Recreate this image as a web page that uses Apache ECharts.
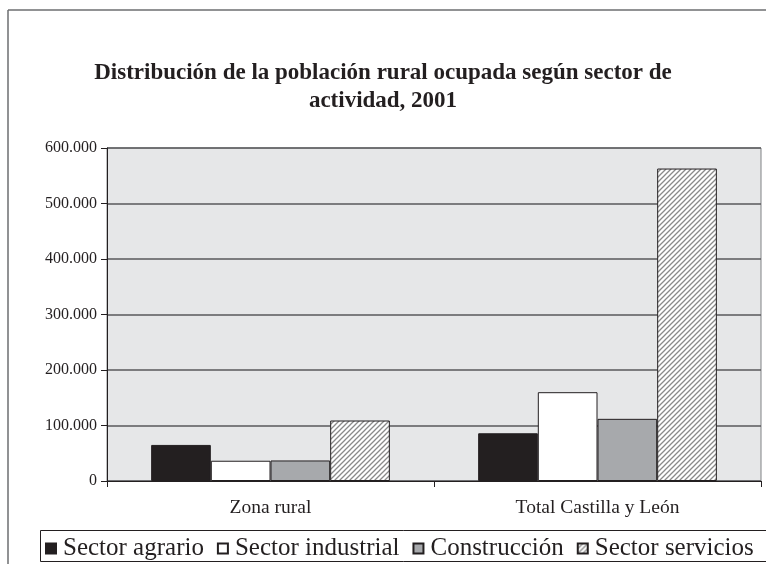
<!DOCTYPE html>
<html>
<head>
<meta charset="utf-8">
<script src="https://cdn.jsdelivr.net/npm/echarts@6/dist/echarts.min.js"></script>
<style>html,body{margin:0;padding:0;background:#fff}#c{width:766px;height:564px}</style>
</head>
<body>
<div id="c"></div>
<script>
var titleText = 'Distribución de la población rural ocupada según sector de\nactividad, 2001';
var categories = ['Zona rural', 'Total Castilla y León'];
var seriesNames = ['Sector agrario', 'Sector industrial', 'Construcción', 'Sector servicios'];
var agrario = [65000, 86000];
var industrial = [36500, 160000];
var construccion = [37000, 112000];
var servicios = [109000, 563000];
var yTicks = [0, 100000, 200000, 300000, 400000, 500000, 600000];

function hatch() {
  var c = document.createElement('canvas');
  c.width = 5; c.height = 5;
  var g = c.getContext('2d');
  g.fillStyle = '#ffffff'; g.fillRect(0, 0, 5, 5);
  g.strokeStyle = '#8a8a8a'; g.lineWidth = 1.3;
  g.beginPath();
  g.moveTo(-1, 6); g.lineTo(6, -1);
  g.moveTo(-3, 3); g.lineTo(3, -3);
  g.moveTo(2, 8); g.lineTo(8, 2);
  g.stroke();
  return c;
}
var hatchImg = hatch();

function fmt(v) {
  if (v === 0) return '0';
  var s = String(v);
  return s.replace(/\B(?=(\d{3})+(?!\d))/g, '.');
}

var chart = echarts.init(document.getElementById('c'), null, {renderer: 'canvas'});
var font = 'Liberation Serif';
var fills = ['#231f20', '#ffffff', '#a7a9ac', {image: hatchImg, repeat: 'repeat'}];
var data = [agrario, industrial, construccion, servicios];

chart.setOption({
  animation: false,
  backgroundColor: '#ffffff',
  textStyle: {fontFamily: font},
  title: {
    text: titleText,
    left: 'center',
    top: 54,
    textStyle: {fontFamily: font, fontSize: 23, fontWeight: 'bold', color: '#231f20', lineHeight: 28}
  },
  graphic: [
    {type: 'line', shape: {x1: 8, y1: 10, x2: 8, y2: 564}, style: {stroke: '#6d6e71', lineWidth: 1.5}, z: 100},
    {type: 'line', shape: {x1: 8, y1: 10, x2: 766, y2: 10}, style: {stroke: '#6d6e71', lineWidth: 1.5}, z: 100},
    {type: 'rect', shape: {x: 40.5, y: 530.5, width: 740, height: 31}, style: {fill: null, stroke: '#231f20', lineWidth: 1}, z: 100}
  ],
  legend: {
    data: seriesNames,
    left: 40,
    top: 531,
    itemWidth: 10,
    itemHeight: 10,
    itemGap: 13,
    icon: 'rect',
    textStyle: {fontFamily: font, fontSize: 25, color: '#231f20', padding: [0, 0, 0, 2]}
  },
  grid: {left: 107, right: 5, top: 148, bottom: 83, containLabel: false, show: true, backgroundColor: '#e6e7e8', borderColor: '#808285', borderWidth: 1},
  xAxis: {
    type: 'category',
    data: categories,
    axisLine: {lineStyle: {color: '#231f20', width: 1}},
    axisTick: {show: true, length: 6, alignWithLabel: false, lineStyle: {color: '#231f20'}},
    axisLabel: {fontFamily: font, fontSize: 19.5, color: '#231f20', margin: 17}
  },
  yAxis: {
    type: 'value',
    min: 0, max: 600000, interval: 100000,
    axisLine: {show: true, lineStyle: {color: '#231f20', width: 1}},
    axisTick: {show: true, length: 6, inside: false, lineStyle: {color: '#231f20'}},
    axisLabel: {fontFamily: font, fontSize: 16, color: '#231f20', margin: 10, formatter: fmt},
    splitLine: {lineStyle: {color: '#58595b', width: 1.5}}
  },
  series: seriesNames.map(function (n, i) {
    return {
      name: n,
      type: 'bar',
      data: data[i],
      barGap: '0%',
      barCategoryGap: '27%',
      itemStyle: {color: fills[i], borderColor: '#231f20', borderWidth: 1}
    };
  })
});
</script>
</body>
</html>
